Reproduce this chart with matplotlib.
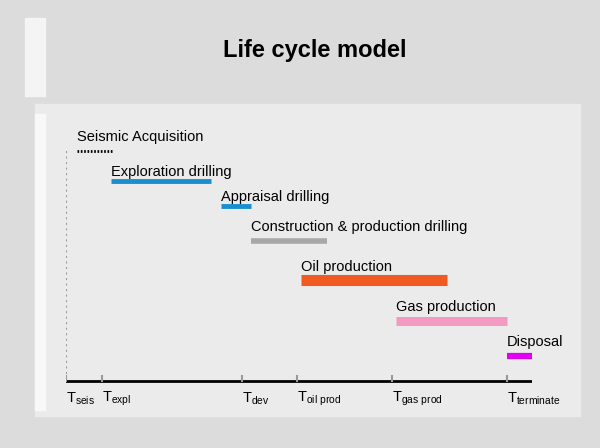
import matplotlib
matplotlib.use("Agg")
import matplotlib.pyplot as plt
from matplotlib.patches import Rectangle

plt.rcParams['font.family'] = ['Liberation Sans', 'DejaVu Sans']

# milestones (time units along the axis)
milestone_names = ["seis", "expl", "dev", "oil prod", "gas prod", "terminate"]
milestone_times = [0, 3.6, 17.6, 23.1, 32.6, 44.1]

# phases: name, start, end
phase_names = ["Seismic Acquisition", "Exploration drilling", "Appraisal drilling",
               "Construction & production drilling", "Oil production",
               "Gas production", "Disposal"]
phase_start = [1.1, 4.5, 15.5, 18.5, 23.5, 33.0, 44.1]
phase_end = [4.6, 14.5, 18.5, 26.1, 38.1, 44.1, 46.6]
phase_colors = ["black", "#1a8fd0", "#1a8fd0", "#a8a8a8", "#f05a22", "#f49ac2", "#e000f0"]
row_y = [151, 181, 206, 241, 280, 321, 356]
bar_w = [2, 3.5, 3.5, 4, 8, 6.5, 4.5]
label_y = [137, 172, 197, 227, 267, 307, 342]

fig = plt.figure(figsize=(6, 4.48), dpi=100)
fig.patch.set_facecolor("#dcdcdc")

bg = fig.add_axes([0, 0, 1, 1])
bg.set_xlim(0, 600)
bg.set_ylim(448, 0)
bg.axis("off")
bg.add_patch(Rectangle((25, 18), 20, 78, color="#f4f4f4"))
bg.add_patch(Rectangle((35, 104), 545, 312, color="#ebebeb"))
bg.add_patch(Rectangle((35, 114), 10, 296, color="#f8f8f8"))
bg.text(315, 50, "Life cycle model", ha="center", va="center",
        fontsize=17, fontweight="bold")

# data axes: 10 px per time unit, starting at pixel 66
ax = fig.add_axes([66 / 600, 0, 466 / 600, 1])
ax.set_xlim(0, 46.6)
ax.set_ylim(448, 0)
ax.axis("off")
ax.patch.set_alpha(0)

for i, name in enumerate(phase_names):
    ls = (0, (0.6, 0.6)) if i == 0 else "-"
    ax.plot([phase_start[i], phase_end[i]], [row_y[i], row_y[i]],
            color=phase_colors[i], lw=bar_w[i], ls=ls, solid_capstyle="butt",
            dash_capstyle="butt")
    ax.text(phase_start[i], label_y[i], name, fontsize=10.5, va="center", ha="left")

ax.plot([0, 0], [row_y[0], 381], color="#999999", ls=":", lw=1.5)
ax.plot([0, 46.6], [381, 381], color="black", lw=2)
for t, n in zip(milestone_times, milestone_names):
    ax.plot([t, t], [376, 381], color="#999999", lw=1.5)
    ax.text(t, 399, r"T$_{\mathregular{" + n.replace(" ", r"\ ") + "}}$",
            fontsize=10.5, ha="left", va="center")

fig.savefig("out.png", dpi=100, facecolor=fig.get_facecolor())
